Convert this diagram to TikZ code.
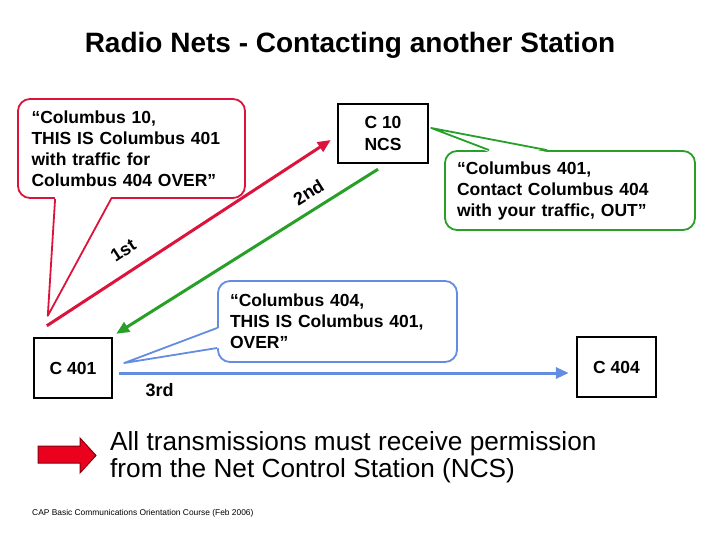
\documentclass[tikz,border=0pt]{standalone}
\usepackage{fontspec}
\setmainfont{Liberation Sans}
\usepackage{tikz}
\usetikzlibrary{calc,positioning,arrows.meta}
\usepackage{xcolor}
\definecolor{callred}{RGB}{220,20,60}
\definecolor{callgreen}{RGB}{40,160,40}
\definecolor{callblue}{RGB}{100,140,225}
\definecolor{blockred}{RGB}{235,0,30}
\tikzset{
  station/.style={
    draw,
    rectangle,
    line width=2.4pt,
    fill=white,
    align=center,
    inner sep=0pt,
    font=\bfseries\fontsize{17.5}{22}\selectfont,
  },
  callout/.style={
    draw,
    rectangle,
    rounded corners=12pt,
    line width=1.8pt,
    fill=white,
    align=left,
    inner xsep=12pt,
    inner ysep=0pt,
    font=\bfseries\fontsize{17.5}{21}\selectfont,
  },
  pointer/.style={line width=1.8pt, line join=round},
  msg/.style={line width=3pt, -{Triangle[length=13pt,width=11pt]}},
  order/.style={font=\bfseries\fontsize{18}{21}\selectfont},
}

\begin{document}
\begin{tikzpicture}[x=1pt,y=-1pt]
  \useasboundingbox (0,0) rectangle (720,540);
  \node[font=\bfseries\fontsize{28}{32}\selectfont] (title) at (350,45) {Radio Nets - Contacting another Station};

  \node[station, minimum width=90pt, minimum height=59pt] (ncs) at (383,133.5) {C 10\\NCS};
  \node[station, minimum width=78pt, minimum height=60pt] (c401) at (73,368) {C 401};
  \node[station, minimum width=79pt, minimum height=60pt] (c404) at (616.5,367) {C 404};

  \node[callout, draw=callred, text width=200pt, inner xsep=13.5pt, minimum height=99pt] (redmsg) at (131.5,148.5) {“Columbus 10,\\THIS IS Columbus 401\\with traffic for\\Columbus 404 OVER”};
  \node[callout, draw=callgreen, text width=226pt, minimum height=79pt] (greenmsg) at (570,190.5) {“Columbus 401,\\Contact Columbus 404\\with your traffic, OUT”};
  \node[callout, draw=callblue, text width=215pt, minimum height=81pt] (bluemsg) at (337.5,321.5) {“Columbus 404,\\THIS IS Columbus 401,\\OVER”};

  \coordinate (redtip) at ($(c401.north west)+(15,-21)$);
  \coordinate (greentip) at ($(ncs.east)+(2,-5.5)$);
  \coordinate (bluetip) at ($(c401.east)+(11,-5)$);
  \fill[white] ($(redmsg.south west)+(38,-2)$) -- (redtip) -- ($(redmsg.south west)+(94,-2)$) -- cycle;
  \draw[pointer, callred] ($(redmsg.south west)+(38,0)$) -- (redtip) -- ($(redmsg.south west)+(94,0)$);
  \fill[white] ($(greenmsg.north west)+(45,2)$) -- (greentip) -- ($(greenmsg.north west)+(103,2)$) -- cycle;
  \draw[pointer, callgreen] ($(greenmsg.north west)+(45,0)$) -- (greentip) -- ($(greenmsg.north west)+(103,0)$);
  \fill[white] ($(bluemsg.west)+(2,6.5)$) -- (bluetip) -- ($(bluemsg.west)+(2,26.5)$) -- cycle;
  \draw[pointer, callblue] ($(bluemsg.west)+(0,6.5)$) -- (bluetip) -- ($(bluemsg.west)+(0,26.5)$);

  \draw[msg, callred] ($(c401.north west)+(14,-11)$) -- node[order, black, sloped, above=10pt, pos=0.31]{1st} ($(ncs.west)+(-6,6.5)$);
  \draw[msg, callgreen] ($(ncs.south)+(-5,5)$) -- node[order, black, sloped, above=6pt, pos=0.23]{2nd} ($(c401.north east)+(3,-3)$);
  \draw[msg, callblue] ($(c401.east)+(6,5)$) -- node[order, black, below=6pt, pos=0.09]{3rd} ($(c404.west)+(-7,6)$);

  \draw[line width=1pt, draw=blockred!55!black, fill=blockred, line join=miter] (38,446) -- (80,446) -- (80,438) -- (96,455.5) -- (80,473) -- (80,463) -- (38,463) -- cycle;
  \node[anchor=west, align=left, inner sep=0pt, font=\fontsize{26.2}{27}\selectfont] (rule) at (110,457) {All transmissions must receive permission\\from the Net Control Station (NCS)};
  \node[anchor=west, inner sep=0pt, font=\fontsize{8.4}{9}\selectfont] (foot) at (32,513) {CAP Basic Communications Orientation Course (Feb 2006)};
\end{tikzpicture}
\end{document}
